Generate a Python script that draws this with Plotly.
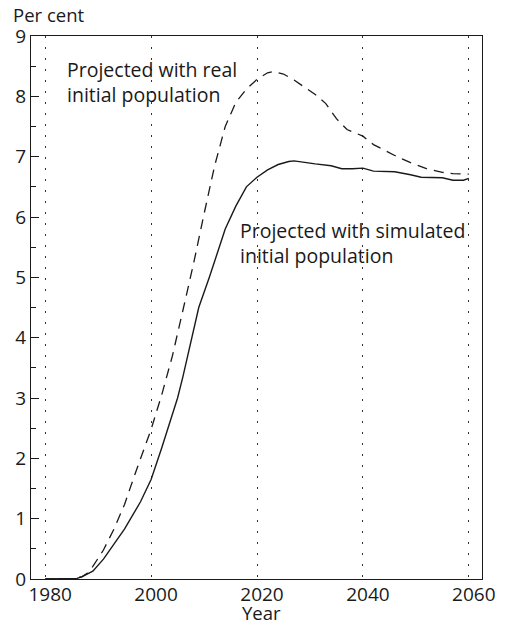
import plotly.graph_objects as go

# Projected share (per cent), simulated initial population
sim_years = [1980, 1985, 1986, 1987, 1988, 1989, 1991, 1993, 1995, 1998, 2000,
             2002, 2004, 2005, 2006, 2007, 2008, 2009, 2011, 2013, 2014, 2016,
             2018, 2020, 2022, 2024, 2026, 2027, 2029, 2031, 2034, 2036, 2038,
             2040, 2042, 2046, 2049, 2051, 2055, 2057, 2059, 2060]
sim_values = [0, 0, 0.01, 0.04, 0.08, 0.13, 0.33, 0.57, 0.83, 1.28, 1.65,
              2.17, 2.70, 3.00, 3.35, 3.73, 4.15, 4.50, 5.00, 5.56, 5.80, 6.18,
              6.50, 6.66, 6.78, 6.87, 6.92, 6.93, 6.90, 6.88, 6.85, 6.80, 6.80,
              6.81, 6.76, 6.75, 6.70, 6.66, 6.65, 6.61, 6.61, 6.64]

# Projected share (per cent), real initial population
real_years = [1980, 1985, 1987, 1988, 1989, 1991, 1993, 1995, 1997, 1999, 2000,
              2002, 2004, 2006, 2008, 2010, 2012, 2014, 2016, 2018, 2020, 2022,
              2023, 2025, 2027, 2029, 2031, 2033, 2035, 2037, 2039, 2040, 2042,
              2044, 2046, 2049, 2052, 2055, 2057, 2060]
real_values = [0, 0, 0.04, 0.10, 0.21, 0.48, 0.83, 1.24, 1.75, 2.24, 2.48,
               3.05, 3.69, 4.45, 5.22, 6.05, 6.85, 7.50, 7.90, 8.12, 8.28, 8.39,
               8.41, 8.37, 8.27, 8.15, 8.03, 7.88, 7.63, 7.45, 7.38, 7.34, 7.20,
               7.11, 7.02, 6.90, 6.80, 6.74, 6.72, 6.71]

x_ticks = [1980, 2000, 2020, 2040, 2060]
y_ticks = list(range(0, 10))

FONT = "Open Sans"
INK = "#1a1a1a"

fig = go.Figure()
fig.add_trace(go.Scatter(
    x=real_years, y=real_values, mode="lines",
    line=dict(color=INK, width=1.3, dash="10px,7px"),
    hoverinfo="skip", showlegend=False,
))
fig.add_trace(go.Scatter(
    x=sim_years, y=sim_values, mode="lines",
    line=dict(color=INK, width=1.4),
    hoverinfo="skip", showlegend=False,
))

fig.update_layout(
    width=507, height=631,
    margin=dict(l=31, r=21, t=36, b=52),
    paper_bgcolor="white", plot_bgcolor="white",
    font=dict(family=FONT, size=19, color=INK),
    xaxis=dict(
        range=[1977.32, 2062.49],
        tickvals=x_ticks, ticktext=[str(v) for v in x_ticks],
        ticks="", showline=True, linecolor=INK, linewidth=1.2, mirror=True,
        showgrid=True, gridcolor="#333333", gridwidth=1, griddash="2px,9px",
        zeroline=False, ticklabelshift=5, ticklabelstandoff=-2,
        tickfont=dict(family=FONT, size=19, color=INK),
    ),
    yaxis=dict(
        range=[0, 9],
        tickvals=y_ticks, ticktext=[str(v) for v in y_ticks],
        ticks="inside", ticklen=8, tickcolor=INK, tickwidth=1,
        minor=dict(dtick=0.5, tick0=0, ticks="inside", ticklen=5,
                   tickcolor=INK, tickwidth=1, showgrid=False),
        showline=True, linecolor=INK, linewidth=1.2, mirror=True,
        showgrid=False, zeroline=False,
        tickfont=dict(family=FONT, size=19, color=INK),
    ),
    annotations=[
        dict(text="Per cent", xref="paper", yref="paper", x=-0.044, y=1.0387,
             xanchor="left", yanchor="middle", showarrow=False,
             font=dict(family=FONT, size=18.5, color=INK)),
        dict(text="Year", xref="paper", yref="paper", x=(264 - 31) / 455,
             y=-0.0625, xanchor="center", yanchor="middle", showarrow=False,
             font=dict(family=FONT, size=18.5, color=INK)),
        dict(text="Projected with real<br>initial population",
             xref="x", yref="y", x=1984.06, y=8.23, xanchor="left", xshift=-2,
             yanchor="middle", align="left", showarrow=False,
             font=dict(family=FONT, size=19.5, color=INK)),
        dict(text="Projected with simulated<br>initial population",
             xref="x", yref="y", x=2016.76, y=5.57, xanchor="left", xshift=-2,
             yanchor="middle", align="left", showarrow=False,
             font=dict(family=FONT, size=19.5, color=INK)),
    ],
)

fig.write_html("out.html")
